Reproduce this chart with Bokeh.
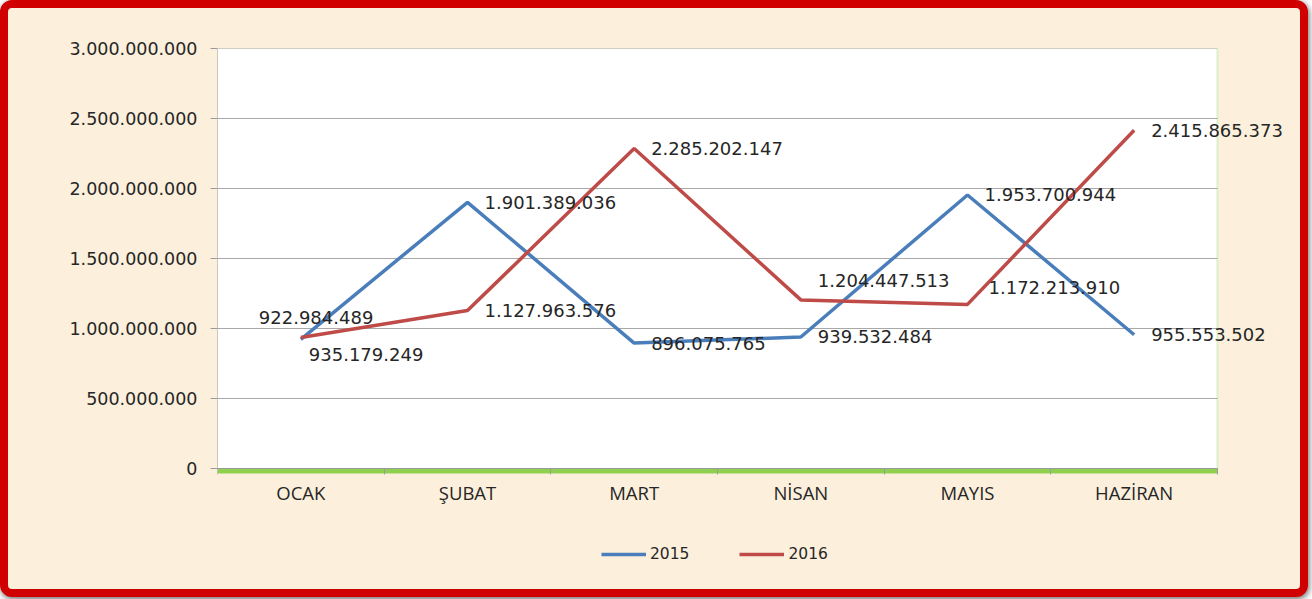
from bokeh.plotting import figure
from bokeh.models import FixedTicker, Legend, LegendItem, ColumnDataSource, Range1d
from bokeh.embed import file_html
from bokeh.resources import INLINE
from bokeh.core.properties import value

months = ["OCAK", "ŞUBAT", "MART", "NİSAN", "MAYIS", "HAZİRAN"]
sales_2015 = [922984489, 1901389036, 896075765, 939532484, 1953700944, 955553502]
sales_2016 = [935179249, 1127963576, 2285202147, 1204447513, 1172213910, 2415865373]
y_ticks = [0, 500000000, 1000000000, 1500000000, 2000000000, 2500000000, 3000000000]

# label placement (screen px offsets from each point; +y is down)
off_2015_x = [-42, 17, 17, 17, 17, 17]
off_2015_y = [-22, 0, 0, 0, 0, 0]
off_2016_x = [8, 17, 17, 17, 21, 17]
off_2016_y = [17, 0, 0, -19, -17, 0]


def tr(n):
    return f"{int(n):,}".replace(",", ".")


n = len(months)
xs = [i + 0.5 for i in range(n)]
bounds = list(range(n + 1))
ymax = y_ticks[-1]

BLUE = "#4a7ebb"
RED = "#be4b48"
BG = "#fcf0dc"

# layout (pixels); the canvas is W x H, framed by a CSS border
W, H = 1308, 597
LEFT, TOP, RIGHT, BOTTOM = 209, 40, 8, 8
PLOT_W, PLOT_H = 1000, 420            # white plot area size
FRAME_W = W - LEFT - RIGHT
FRAME_H = H - TOP - BOTTOM
ypx = ymax / PLOT_H                    # data units per pixel (y)

p = figure(width=W, height=H, output_backend="svg", toolbar_location=None,
           x_range=Range1d(0, n * FRAME_W / PLOT_W),
           y_range=Range1d(ymax - FRAME_H * ypx, ymax),
           min_border_left=LEFT, min_border_right=RIGHT, min_border_top=TOP,
           min_border_bottom=BOTTOM,
           background_fill_alpha=0, border_fill_alpha=0)
p.styles = {"border": "8px solid #d00000", "border-radius": "12px",
            "background-color": BG,
            "box-shadow": "1px 2px 6px rgba(0,0,0,0.6)"}
p.outline_line_color = None
p.xgrid.grid_line_color = None
p.ygrid.grid_line_color = None

# white plot area, green base band, grid lines, left axis line
p.quad(left=0, right=n, bottom=0, top=ymax, fill_color="white", line_color=None)
p.quad(left=0, right=n, bottom=-5 * ypx, top=0, fill_color="#8fd14f", line_color=None)
p.segment(x0=[n], x1=[n], y0=[0], y1=[ymax], line_color="#dcefc6", line_width=2)
p.segment(x0=[0] * len(y_ticks), x1=[n] * len(y_ticks), y0=y_ticks, y1=y_ticks,
          line_color="#a8a8a8", line_width=1)
p.segment(x0=[0], x1=[0], y0=[0], y1=[ymax], line_color="#9a9a9a", line_width=1)

# y axis
p.yaxis.bounds = (0, ymax)
p.yaxis.ticker = FixedTicker(ticks=y_ticks)
p.yaxis.major_label_overrides = {t: tr(t) for t in y_ticks}
p.yaxis.axis_line_color = None
p.yaxis.major_tick_line_color = "#9a9a9a"
p.yaxis.major_tick_out = 7
p.yaxis.major_tick_in = 0
p.yaxis.minor_tick_line_color = None
p.yaxis.major_label_standoff = 13
p.yaxis.major_label_text_font = "DejaVu Sans"
p.yaxis.major_label_text_font_size = "17.5px"
p.yaxis.major_label_text_color = "#262626"

# x axis, fixed at y = 0 inside the frame
p.xaxis.fixed_location = 0
p.xaxis.bounds = (0, n)
p.xaxis.ticker = FixedTicker(ticks=xs, minor_ticks=bounds)
p.xaxis.major_label_overrides = {x: m for x, m in zip(xs, months)}
p.xaxis.axis_line_color = "#9a9a9a"
p.xaxis.major_tick_line_color = None
p.xaxis.major_tick_out = 0
p.xaxis.major_tick_in = 0
p.xaxis.minor_tick_line_color = "#9a9a9a"
p.xaxis.minor_tick_out = 6
p.xaxis.minor_tick_in = 0
p.xaxis.major_label_standoff = 5
p.xaxis.major_label_text_font = "Open Sans"
p.xaxis.major_label_text_font_size = "18.5px"
p.xaxis.major_label_text_color = "#262626"

src15 = ColumnDataSource(dict(x=xs, y=sales_2015, t=[tr(v) for v in sales_2015],
                              dx=off_2015_x, dy=off_2015_y))
src16 = ColumnDataSource(dict(x=xs, y=sales_2016, t=[tr(v) for v in sales_2016],
                              dx=off_2016_x, dy=off_2016_y))

l15 = p.line("x", "y", source=src15, line_color=BLUE, line_width=3.5)
l16 = p.line("x", "y", source=src16, line_color=RED, line_width=3.5)

for s in (src15, src16):
    p.text("x", "y", text="t", source=s, x_offset="dx", y_offset="dy",
           text_align="left", text_baseline="middle",
           text_font=value("DejaVu Sans"), text_font_size="18px",
           text_color="#262626")

legend = Legend(items=[LegendItem(label="2015", renderers=[l15]),
                       LegendItem(label="2016", renderers=[l16])],
                orientation="horizontal", location=(384, 33),
                background_fill_alpha=0, border_line_color=None,
                glyph_width=45, glyph_height=20, label_standoff=4, spacing=50,
                padding=5, margin=0,
                label_text_font="DejaVu Sans", label_text_font_size="15.5px",
                label_text_color="#262626")
p.add_layout(legend, "center")

open("out.html", "w").write(file_html(p, INLINE))
